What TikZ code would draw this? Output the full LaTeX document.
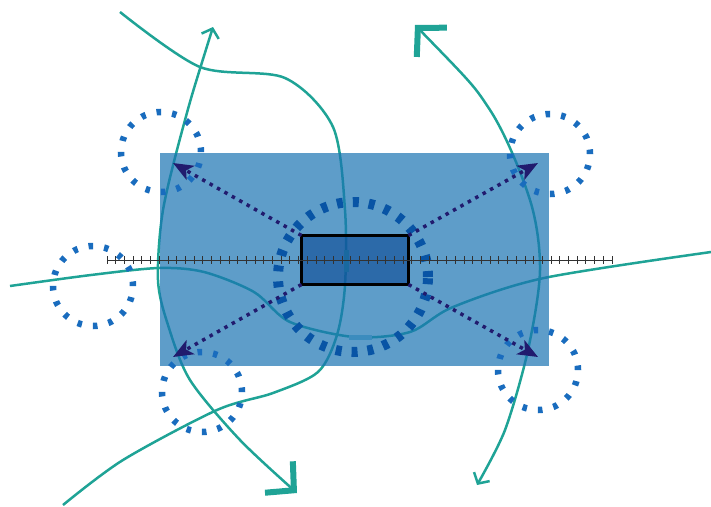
\documentclass[tikz,border=0pt]{standalone}
\usetikzlibrary{arrows.meta}
\definecolor{teal1}{RGB}{31,163,150}
\definecolor{rectblue}{RGB}{26,116,178}
\definecolor{coreblue}{RGB}{12,72,150}
\definecolor{ringblue}{RGB}{8,84,165}
\definecolor{smallring}{RGB}{25,108,190}
\definecolor{navy}{RGB}{33,27,110}
\definecolor{rulergray}{RGB}{50,50,50}
\tikzset{
  curve/.style={draw=teal1, line width=2.5pt},
  smallring/.style={circle, draw=smallring, line width=6.5pt, dash pattern=on 4.5pt off 11.2pt, minimum size=80pt, inner sep=0pt},
  bigring/.style={circle, draw=ringblue, line width=10pt, dash pattern=on 6pt off 10pt, minimum size=150pt, inner sep=0pt},
  dotarrow/.style={draw=navy, line width=3.5pt, dash pattern=on 3.5pt off 5pt, -{Stealth[length=20pt,width=16pt,inset=5pt]}},
  rulerline/.style={draw=rulergray, line width=0.9pt},
  tickmark/.style={draw=rulergray, line width=0.8pt},
}
\begin{document}
\begin{tikzpicture}[x=1pt,y=-1pt]
\useasboundingbox (0,0) rectangle (711,506);
% teal curves (under the translucent panel)
\draw[curve] plot[smooth,tension=0.5] coordinates {(120,12) (200,67) (285,78) (333,127) (345,210) (345,285) (337,335) (318,372) (273,393) (217,410) (123,460) (63,505)};
\draw[curve, arrows={Straight Barb[length=8pt,width=18pt]-Straight Barb[length=20pt,width=42pt,line width=6pt]}] plot[smooth,tension=0.5] coordinates {(213,27) (185,120) (163,210) (158,280) (168,325) (190,380) (240,440) (297,493)};
\draw[curve, arrows={Straight Barb[length=20pt,width=42pt,line width=6pt]-Straight Barb[length=8pt,width=18pt]}] plot[smooth,tension=0.5] coordinates {(415,25) (490,110) (530,200) (540,270) (528,350) (505,430) (477,485)};
\draw[curve] plot[smooth,tension=0.5] coordinates {(10,286) (91,275) (159,268) (204,272) (254,292) (290,322) (354,337) (410,332) (453,307) (544,278) (711,252)};
% panel and core
\node[fill=rectblue, fill opacity=0.7, minimum width=389pt, minimum height=213pt, inner sep=0pt] (panel) at (354.5,259.5) {};
\node[fill=coreblue, fill opacity=0.6, draw=black, draw opacity=1, line width=3pt, minimum width=107pt, minimum height=49pt, inner sep=0pt, outer sep=0pt] (core) at (355,260) {};
% segment markers
\draw[draw={rgb,255:red,25;green,105;blue,160}, line width=5pt] (346,250) -- (346,272);
\draw[draw={rgb,255:red,60;green,140;blue,190}, line width=5pt] (349,337) -- (372,337);
% rings
\node[bigring] (ring) at (353,277) {};
\node[smallring] (c1) at (161,152) {};
\node[smallring] (c2) at (550,154) {};
\node[smallring] (c3) at (93,286) {};
\node[smallring] (c4) at (202,392) {};
\node[smallring] (c5) at (538,370) {};
% ruler
\coordinate (r0) at (107,260);
\coordinate (r1) at (612,260);
\draw[rulerline] (r0) -- (r1);
\foreach \i in {0,...,58} { \draw[tickmark] (107+\i*8.707,256) -- ++(0,8); }
% dotted arrows
\coordinate (tl) at (173,163);
\coordinate (tr) at (538,163);
\coordinate (bl) at (173,357);
\coordinate (br) at (538,357);
\draw[dotarrow] (core.north west) -- (tl);
\draw[dotarrow] (core.north east) -- (tr);
\draw[dotarrow] (core.south west) -- (bl);
\draw[dotarrow] (core.south east) -- (br);
\end{tikzpicture}
\end{document}
